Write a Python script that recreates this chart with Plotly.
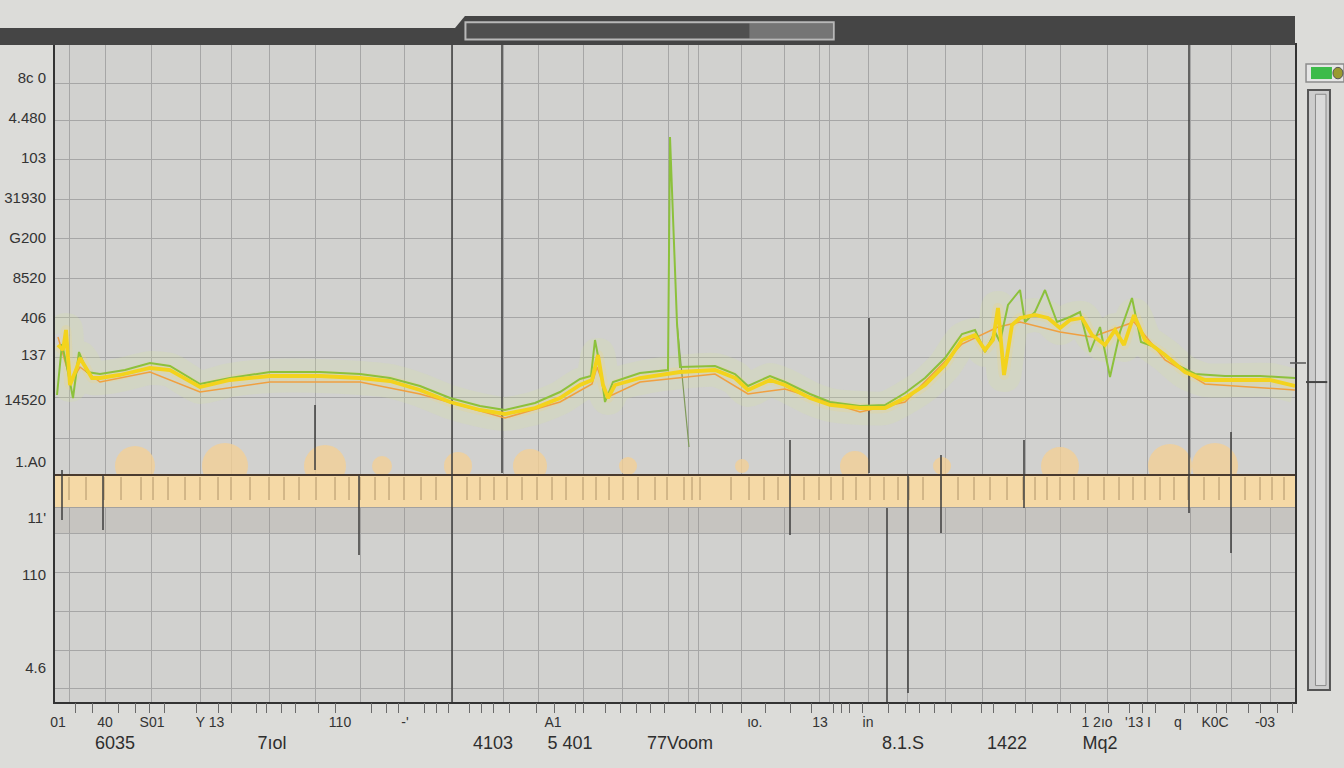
import plotly.graph_objects as go

# ---------------- data ----------------
# x in time units, y in level units
yellow_x = [0.3, 0.8, 1.1, 1.5, 2.1, 2.5, 3.7, 4.5, 6.5, 9.5, 11.5, 14.5, 17.5, 21.5, 26.5, 30.5, 33.5,
            36.5, 39.5, 42.5, 45.0, 48.0, 50.5, 52.5, 53.7, 54.3, 54.8, 55.3, 56.0, 58.5, 62.5, 66.0,
            68.0, 69.3, 71.5, 73.0, 75.5, 77.5, 80.5, 83.0, 85.0, 87.0, 89.0, 90.7, 92.0, 93.0, 93.8,
            94.3, 94.9, 95.7, 96.5, 98.0, 99.3, 100.5, 101.5, 102.7, 103.7, 105.0, 106.0, 106.9, 107.9,
            109.0, 111.0, 113.0, 115.0, 118.5, 121.5, 124.0]
yellow_y = [35.7, 35.2, 37.2, 31.7, 33.2, 34.4, 32.4, 32.4, 32.7, 33.4, 33.2, 31.5, 32.2, 32.6, 32.6, 32.4, 32.1,
            31.2, 30.0, 29.2, 28.8, 29.4, 30.4, 31.7, 32.2, 34.7, 31.7, 30.4, 31.7, 32.4, 33.0, 33.2,
            32.4, 31.2, 32.2, 31.7, 30.4, 29.7, 29.4, 29.4, 30.4, 31.7, 33.7, 36.2, 36.7, 35.2, 36.2,
            39.4, 32.7, 37.7, 38.4, 38.7, 38.4, 37.4, 38.2, 38.4, 36.7, 35.7, 37.2, 35.7, 38.7,
            36.2, 34.7, 33.0, 32.2, 32.2, 32.2, 31.6]

green_x = [0.2, 0.7, 1.2, 1.8, 2.4, 3.2, 4.5, 7.0, 9.5, 11.5, 14.5, 17.5, 21.5, 26.5, 30.5, 33.5, 36.5,
           39.5, 42.5, 45.0, 48.0, 50.5, 52.5, 53.6, 54.0, 54.6, 55.0, 55.8, 58.5, 61.3, 61.5, 62.2, 62.5,
           66.0, 68.0, 69.3, 71.5, 73.0, 75.5, 77.5, 80.5, 83.0, 85.0, 87.0, 89.0, 90.7, 92.0,
           93.0, 94.0, 94.5, 95.3, 96.5, 97.0, 98.0, 99.0, 100.2, 101.5, 102.5, 103.5, 104.5, 105.5,
           106.5, 107.7, 108.6, 110.0, 112.0, 114.0, 117.0, 120.5, 124.0]
green_y = [30.7, 35.8, 33.5, 30.4, 35.0, 33.0, 32.8, 33.2, 33.9, 33.6, 31.8, 32.4, 33.0, 33.0, 32.8, 32.4, 31.6,
           30.4, 29.6, 29.2, 29.9, 31.0, 32.3, 32.6, 36.2, 33.0, 30.0, 32.0, 32.9, 33.2, 56.5, 37.9, 33.5,
           33.6, 32.8, 31.6, 32.6, 32.0, 30.8, 30.0, 29.6, 29.7, 30.9, 32.4, 34.4, 36.8, 37.2,
           35.0, 37.0, 36.0, 39.7, 41.2, 38.0, 39.0, 41.2, 38.0, 38.5, 39.0, 35.0, 37.5, 32.5,
           37.0, 40.4, 36.0, 35.5, 33.8, 32.8, 32.6, 32.6, 32.4]
green_tail_x = [62.2, 63.4]
green_tail_y = [37.9, 25.5]

orange_x = [0.3, 1.0, 1.6, 2.5, 4.5, 9.5, 14.5, 21.5, 30.5, 36.5, 45.0, 50.5, 53.7, 54.2, 55.3, 58.5,
            66.0, 69.3, 73.0, 80.5, 85.0, 90.7, 94.3, 96.5, 100.5, 103.7, 107.9, 111.0, 115.0, 124.0]
orange_y = [36.5, 34.0, 32.0, 33.5, 32.0, 33.0, 31.0, 32.0, 32.0, 30.8, 28.4, 30.0, 31.8, 33.5, 30.5, 32.0,
            32.8, 30.8, 31.3, 29.0, 30.0, 35.8, 37.5, 38.0, 37.0, 36.5, 38.0, 34.2, 31.8, 31.2]

# vertical spikes
spike_x = [39.7, 0.7, 4.8, 26.0, 30.4, 44.7, 73.5, 81.4, 83.2, 85.3, 88.6, 96.9, 113.4, 117.6]
spike_top = [65.7, 23.2, 22.7, 29.7, 22.7, 65.7, 26.2, 38.4, 19.4, 22.7, 24.7, 26.2, 65.7, 27.0]
spike_bottom = [0.0, 18.2, 17.2, 23.2, 14.7, 22.9, 16.7, 22.9, 0.0, 0.9, 16.9, 19.4, 18.9, 14.9]

# band
band_top = 22.7
band_bottom = 19.5
band_shadow_bottom = 16.9
band_tick_top = 22.5
band_tick_bottom = 20.2
band_ticks = [1.4, 3.1, 4.9, 6.6, 8.6, 9.8, 11.3, 13.0, 14.5, 16.3, 17.6, 19.5, 21.4, 22.9, 24.4, 26.1,
              28.0, 29.4, 30.5, 32.0, 33.4, 34.9, 36.6, 38.1, 39.7, 41.2, 42.5, 43.9, 45.2, 46.7, 48.2,
              49.7, 51.1, 52.8, 54.1, 55.4, 56.8, 58.3, 60.0, 61.2, 62.9, 63.7, 64.5, 67.6, 69.4, 70.9,
              72.3, 73.5, 74.9, 76.4, 77.6, 78.8, 80.1, 81.5, 82.9, 84.3, 85.4, 86.8, 88.6, 90.3, 91.9,
              93.5, 95.2, 96.8, 98.0, 99.2, 100.5, 101.9, 103.3, 104.9, 106.4, 107.8, 109.0, 110.5,
              111.9, 113.3, 114.9, 116.4, 117.6, 119.0, 120.5, 121.7, 122.9]
blob_x = [8.0, 17.0, 27.0, 32.7, 40.3, 47.5, 57.3, 68.7, 80.0, 88.7, 100.5, 111.5, 116.0]
blob_w = [40, 46, 42, 20, 28, 34, 18, 14, 30, 18, 38, 44, 46]

# axis grid and ticks
x_grid = [1.45, 5.0, 9.6, 14.5, 17.6, 21.4, 26.0, 30.5, 34.9, 39.7, 44.8, 48.3, 52.8, 56.7, 61.3,
          63.3, 64.3, 68.6, 72.9, 76.4, 77.4, 81.3, 85.2, 89.0, 92.7, 97.0, 100.5, 105.2, 109.2, 113.5,
          117.6, 121.5]
y_grid = [1.4, 5.2, 9.1, 13.0, 16.9, 19.5, 22.7, 26.4, 30.5, 34.5, 38.5, 42.4, 46.4, 50.3, 54.3, 58.2, 61.9]
y_label_vals = [62.4, 58.4, 54.4, 50.4, 46.4, 42.4, 38.4, 34.7, 30.2, 24.0, 18.4, 12.7, 3.4]
y_label_text = ["8c 0", "4.480", "103", "31930", "G200", "8520", "406", "137", "14520",
                "1.A0", "11'", "110", "4.6"]
x_minor_ticks = [2.0, 3.7, 6.3, 8.0, 9.4, 10.9, 14.1, 16.3, 17.6, 20.1, 21.1, 22.6, 24.0, 26.3, 28.0,
                 31.6, 33.1, 34.3, 36.9, 38.1, 39.3, 41.4, 42.6, 43.8, 45.4, 48.1, 49.9, 52.0, 52.8,
                 55.0, 56.5, 58.1, 59.5, 60.9, 64.0, 65.5, 66.7, 68.6, 71.0, 73.5, 75.6, 77.8, 78.6,
                 79.4, 80.7, 83.3, 85.0, 86.4, 87.9, 89.6, 92.6, 93.8, 96.0, 97.7, 100.2, 101.5, 103.0,
                 105.3, 107.4, 108.7, 110.0, 112.9, 114.2, 116.1, 117.1, 119.3, 120.5, 122.2, 123.7]
x_small_vals = [0.3, 5.0, 9.7, 15.5, 28.5, 35.0, 49.8, 70.0, 76.5, 81.3, 104.2, 108.3, 112.3, 116.0, 121.0]
x_small_text = ["01", "40", "S01", "Y 13", "110", "-'", "A1", "ιo.", "13", "in", "1 2ıo", "'13 I",
                "q", "K0C", "-03"]
x_big_vals = [6.0, 21.7, 43.8, 51.5, 62.5, 84.8, 95.2, 104.5]
x_big_text = ["6035", "7ıol", "4103", "5 401", "77Voom", "8.1.S", "1422", "Mq2"]

X_RANGE = [0, 124]
Y_RANGE = [0, 65.7]

# ---------------- figure ----------------
fig = go.Figure()

# soft glow behind the lines
fig.add_trace(go.Scatter(x=yellow_x, y=yellow_y, mode="lines",
                         line=dict(color="rgba(215,228,160,0.22)", width=34, shape="spline", smoothing=0.6),
                         hoverinfo="skip", showlegend=False))
fig.add_trace(go.Scatter(x=yellow_x, y=yellow_y, mode="lines",
                         line=dict(color="rgba(240,215,120,0.22)", width=10, shape="spline", smoothing=0.6),
                         hoverinfo="skip", showlegend=False))

# blobs above the band
fig.add_trace(go.Scatter(x=blob_x, y=[band_top + 0.9] * len(blob_x), mode="markers",
                         marker=dict(size=blob_w, color="#f2cf96", opacity=0.8, line=dict(width=0)),
                         hoverinfo="skip", showlegend=False))

# shadow under the band
fig.add_trace(go.Scatter(x=[X_RANGE[0], X_RANGE[1], X_RANGE[1], X_RANGE[0]],
                         y=[band_bottom, band_bottom, band_shadow_bottom, band_shadow_bottom],
                         fill="toself", fillcolor="rgba(150,138,125,0.18)", mode="lines",
                         line=dict(width=0), hoverinfo="skip", showlegend=False))
# band
fig.add_trace(go.Scatter(x=[X_RANGE[0], X_RANGE[1], X_RANGE[1], X_RANGE[0]],
                         y=[band_top, band_top, band_bottom, band_bottom],
                         fill="toself", fillcolor="#f5d9a6", mode="lines",
                         line=dict(width=0), hoverinfo="skip", showlegend=False))
# band tick marks
bx, by = [], []
for v in band_ticks:
    bx += [v, v, None]
    by += [band_tick_top, band_tick_bottom, None]
fig.add_trace(go.Scatter(x=bx, y=by, mode="lines", line=dict(color="rgba(150,120,80,0.7)", width=1),
                         hoverinfo="skip", showlegend=False))
# band top dark line
fig.add_trace(go.Scatter(x=X_RANGE, y=[band_top, band_top], mode="lines",
                         line=dict(color="#4a3b2f", width=2.2), hoverinfo="skip", showlegend=False))

# vertical spikes
sx, sy = [], []
for v, t, b in zip(spike_x, spike_top, spike_bottom):
    sx += [v, v, None]
    sy += [t, b, None]
fig.add_trace(go.Scatter(x=sx, y=sy, mode="lines", line=dict(color="#3c3c3c", width=1.5),
                         hoverinfo="skip", showlegend=False))

# signal lines
fig.add_trace(go.Scatter(x=green_tail_x, y=green_tail_y, mode="lines",
                         line=dict(color="#7f9a5a", width=1.2), hoverinfo="skip", showlegend=False))
fig.add_trace(go.Scatter(x=orange_x, y=orange_y, mode="lines",
                         line=dict(color="#f0a040", width=1.5), hoverinfo="skip", showlegend=False))
fig.add_trace(go.Scatter(x=green_x, y=green_y, mode="lines",
                         line=dict(color="#8cc13c", width=2), hoverinfo="skip", showlegend=False))
fig.add_trace(go.Scatter(x=yellow_x, y=yellow_y, mode="lines",
                         line=dict(color="#f3d31c", width=3.8), hoverinfo="skip", showlegend=False))

# dummy traces to attach the overlay axes
for xa in ["x2", "x3", "x4"]:
    fig.add_trace(go.Scatter(x=[None], y=[None], xaxis=xa, yaxis="y", showlegend=False, hoverinfo="skip"))
fig.add_trace(go.Scatter(x=[None], y=[None], xaxis="x", yaxis="y2", showlegend=False, hoverinfo="skip"))

label_font = "Liberation Sans, Arial, sans-serif"

fig.update_layout(
    width=1344, height=768, autosize=False,
    margin=dict(l=55, r=49, t=45, b=66, autoexpand=False),
    paper_bgcolor="#dcdcd9", plot_bgcolor="#d1d1cf",
    showlegend=False,
    xaxis=dict(range=X_RANGE, tickvals=x_grid, showticklabels=False, ticks="", automargin=False,
               showgrid=True, gridcolor="#a6a6a6", gridwidth=1, zeroline=False,
               showline=True, linecolor="#333333", linewidth=2, mirror=True),
    xaxis2=dict(range=X_RANGE, overlaying="x", anchor="y", side="bottom", tickvals=x_minor_ticks,
                ticks="outside", ticklen=10, tickwidth=1, tickcolor="#6a6a6a", automargin=False,
                showticklabels=False, showgrid=False, zeroline=False, showline=False),
    xaxis3=dict(range=X_RANGE, overlaying="x", anchor="y", side="bottom", tickvals=x_small_vals,
                ticktext=x_small_text, ticks="outside", ticklen=7, tickcolor="rgba(0,0,0,0)",
                tickfont=dict(family=label_font, size=14, color="#333333"), automargin=False,
                showgrid=False, zeroline=False, showline=False),
    xaxis4=dict(range=X_RANGE, overlaying="x", anchor="y", side="bottom", tickvals=x_big_vals,
                ticktext=x_big_text, ticks="outside", ticklen=24, tickcolor="rgba(0,0,0,0)",
                tickfont=dict(family=label_font, size=18, color="#2e2e2e"), automargin=False,
                showgrid=False, zeroline=False, showline=False),
    yaxis=dict(range=Y_RANGE, tickvals=y_grid, showticklabels=False, ticks="", automargin=False,
               showgrid=True, gridcolor="#a6a6a6", gridwidth=1, zeroline=False,
               showline=True, linecolor="#333333", linewidth=2, mirror=True),
    yaxis2=dict(range=Y_RANGE, overlaying="y", anchor="x", side="left", tickvals=y_label_vals,
                ticktext=y_label_text, ticks="outside", ticklen=5, tickcolor="rgba(0,0,0,0)",
                tickfont=dict(family=label_font, size=15, color="#333333"), automargin=False,
                showgrid=False, zeroline=False, showline=False),
)

shapes = [
    # dark top bar
    dict(type="rect", xref="paper", yref="paper", x0=-0.05, x1=1.0, y0=1.0, y1=1.026,
         fillcolor="#454545", line=dict(width=0), layer="above"),
    # raised tab
    dict(type="path", xref="paper", yref="paper",
         path="M 0.3226,1.0259 L 0.3306,1.0441 L 1.0,1.0441 L 1.0,1.0259 Z",
         fillcolor="#454545", line=dict(width=0), layer="above"),
    # slot in the tab
    dict(type="rect", xref="paper", yref="paper", x0=0.331, x1=0.628, y0=1.0085, y1=1.0345,
         fillcolor="#4f4f4f", line=dict(color="#b8b8b8", width=2), layer="above"),
    dict(type="rect", xref="paper", yref="paper", x0=0.56, x1=0.627, y0=1.010, y1=1.033,
         fillcolor="rgba(190,190,190,0.35)", line=dict(width=0), layer="above"),
    # right scrollbar
    dict(type="rect", xref="paper", yref="paper", x0=1.0105, x1=1.0282, y0=0.0183, y1=0.9315,
         fillcolor="#cdcdcd", line=dict(color="#555555", width=2), layer="above"),
    dict(type="rect", xref="paper", yref="paper", x0=1.0165, x1=1.0250, y0=0.025, y1=0.925,
         fillcolor="#dadada", line=dict(color="#8a8a8a", width=1), layer="above"),
    dict(type="line", xref="paper", yref="paper", x0=1.0089, x1=1.026, y0=0.487, y1=0.487,
         line=dict(color="#444444", width=2), layer="above"),
    dict(type="line", xref="paper", yref="paper", x0=0.996, x1=1.0089, y0=0.516, y1=0.516,
         line=dict(color="#555555", width=1.5), layer="above"),
    # green indicator pill
    dict(type="rect", xref="paper", yref="paper", x0=1.0089, x1=1.0395, y0=0.9437, y1=0.971,
         fillcolor="#e6e6e6", line=dict(color="#8c8c8c", width=1.5), layer="above"),
    dict(type="rect", xref="paper", yref="paper", x0=1.0129, x1=1.0298, y0=0.9482, y1=0.9665,
         fillcolor="#3dbb4a", line=dict(width=0), layer="above"),
    dict(type="circle", xref="paper", yref="paper", x0=1.0306, x1=1.0387, y0=0.9485, y1=0.966,
         fillcolor="#9a9a30", line=dict(color="#555", width=1), layer="above"),
]
fig.update_layout(shapes=shapes)

fig.write_html(
    "out.html",
    config={"displayModeBar": False},
    post_script="document.body.style.margin='0px';document.body.style.overflow='hidden';"
                "document.body.style.background='#dcdcd9';",
)
